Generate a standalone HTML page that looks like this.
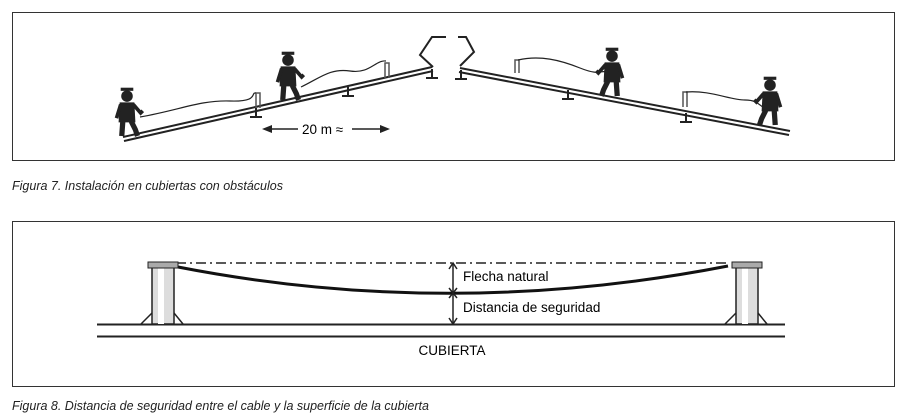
<!DOCTYPE html>
<html><head><style>
body{margin:0;background:#fff;width:902px;height:417px;overflow:hidden;font-family:"Liberation Sans",sans-serif}
svg{position:absolute;left:0;top:0}
</style></head><body>
<svg width="902" height="417" viewBox="0 0 902 417">
<defs>
<g id="w">
<circle cx="0" cy="-38" r="5.5" fill="#222"/>
<rect x="-6" y="-46" width="12" height="3" fill="#222"/>
<path d="M-7,-32 L7,-32 L8,-13 L-8,-13 Z" fill="#222"/>
<path d="M6,-30 L13,-22 L15,-24" stroke="#222" stroke-width="3.5" fill="none"/>
<path d="M-6,-30 L-10,-17" stroke="#222" stroke-width="3.5" fill="none"/>
<path d="M-4,-14 L-5,0 M4,-14 L8,-6 L10,0" stroke="#222" stroke-width="5" fill="none"/>
</g>
</defs>
<rect x="12.5" y="12.5" width="882" height="148" fill="none" stroke="#333"/>
<rect x="12.5" y="221.5" width="882" height="165" fill="none" stroke="#333"/>
<path d="M123,137 L432,67 M124,141 L433,71" stroke="#222" stroke-width="2" fill="none"/>
<path d="M256,108 v8 M250,117 h12 M348,87 v8 M342,96 h12 M432,69 v8 M426,78 h12" stroke="#222" stroke-width="2"/>
<path d="M433,67 L420,55 L432,37 L446,37" stroke="#222" stroke-width="2" fill="none"/>
<path d="M256,108 v-15 h4 v15 M385,78 v-15 h4 v15" stroke="#555" stroke-width="1.5" fill="none"/>
<path d="M140,117 C180,110 200,100 230,101 S250,92 256,93" stroke="#222" stroke-width="1.2" fill="none"/>
<path d="M301,87 C320,78 330,68 350,71 S375,60 386,61" stroke="#222" stroke-width="1.2" fill="none"/>
<use href="#w" transform="translate(127,136) scale(1.05)"/>
<use href="#w" transform="translate(288,100) scale(1.05)"/>
<path d="M460,68 L790,131 M459,72 L789,135" stroke="#222" stroke-width="2" fill="none"/>
<path d="M461,70 v8 M455,79 h12 M568,90 v8 M562,99 h12 M686,113 v8 M680,122 h12" stroke="#222" stroke-width="2"/>
<path d="M460,66 L474,52 L466,37 L458,37" stroke="#222" stroke-width="2" fill="none"/>
<path d="M515,73 v-13 h4 v13 M683,107 v-15 h4 v15" stroke="#555" stroke-width="1.5" fill="none"/>
<path d="M518,60 C540,55 560,60 580,68 S600,70 606,72" stroke="#222" stroke-width="1.2" fill="none"/>
<path d="M686,92 C710,90 730,100 745,100 S760,108 766,108" stroke="#222" stroke-width="1.2" fill="none"/>
<g transform="translate(612,96) scale(-1.05,1.05)"><use href="#w"/></g>
<g transform="translate(770,125) scale(-1.05,1.05)"><use href="#w"/></g>
<path d="M270,129 H298 M352,129 H380" stroke="#222" stroke-width="1.5"/>
<path d="M262,129 l10,-4 v8 Z M390,129 l-10,-4 v8 Z" fill="#222"/>
<text x="302" y="134" font-size="13.5">20 m ≈</text>
<text x="12" y="190" font-size="12.5" font-style="italic" fill="#222">Figura 7. Instalación en cubiertas con obstáculos</text>
<path d="M97,324.5 H785 M97,336.5 H785" stroke="#222" stroke-width="2"/>
<path d="M176,263 H730" stroke="#222" stroke-width="1.5" stroke-dasharray="10,4,2,4"/>
<path d="M178,267 Q450,320 728,266" stroke="#111" stroke-width="3" fill="none"/>
<g>
<path d="M141,324 L152,313 M174,313 L183,324" stroke="#222" stroke-width="1.5"/>
<rect x="152" y="267" width="22" height="57" fill="#ddd" stroke="#222" stroke-width="1.5"/>
<rect x="158" y="267" width="6" height="57" fill="#fff"/>
<rect x="148" y="262" width="30" height="6" fill="#aaa" stroke="#222"/>
</g>
<g>
<path d="M725,324 L736,313 M758,313 L767,324" stroke="#222" stroke-width="1.5"/>
<rect x="736" y="267" width="22" height="57" fill="#ddd" stroke="#222" stroke-width="1.5"/>
<rect x="742" y="267" width="6" height="57" fill="#fff"/>
<rect x="732" y="262" width="30" height="6" fill="#aaa" stroke="#222"/>
</g>
<path d="M453,263 V324" stroke="#222" stroke-width="1.5"/>
<path d="M449,269 L453,263 L457,269 M449,288 L453,293 L457,288 M449,298 L453,293 L457,298 M449,318 L453,324 L457,318" stroke="#222" stroke-width="1.5" fill="none"/>
<text x="463" y="281" font-size="13.5">Flecha natural</text>
<text x="463" y="312" font-size="13.5">Distancia de seguridad</text>
<text x="452" y="355" font-size="13.5" text-anchor="middle">CUBIERTA</text>
<text x="12" y="410" font-size="12.5" font-style="italic" fill="#222">Figura 8. Distancia de seguridad entre el cable y la superficie de la cubierta</text>
</svg>
</body></html>
